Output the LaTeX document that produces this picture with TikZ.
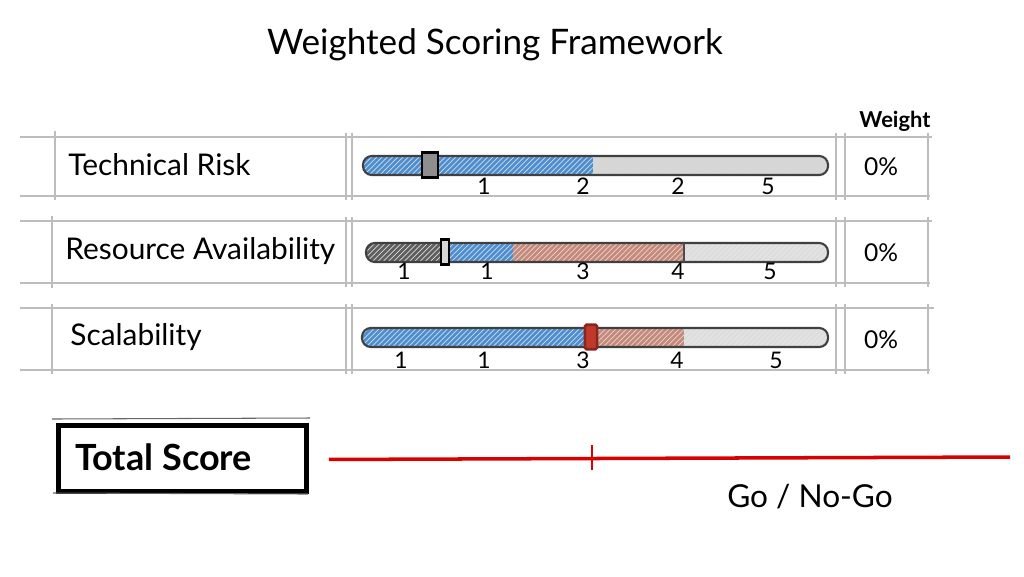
\documentclass[tikz,border=0pt]{standalone}
\usepackage{fontspec}
\setmainfont{Lato}
\usetikzlibrary{positioning,patterns,calc}

\definecolor{sblue}{HTML}{4A8FD3}
\definecolor{sgray}{HTML}{D6D6D6}
\definecolor{sdark}{HTML}{5E5E5E}
\definecolor{sbrown}{HTML}{C98878}
\definecolor{sred}{HTML}{C0392B}
\definecolor{gridline}{HTML}{BDBDBD}

\begin{document}
\begin{tikzpicture}[x=0.02cm,y=-0.02cm,
	grid/.style={gridline, line width=0.7pt},
	rowlabel/.style={anchor=west, font=\fontsize{17}{20}\selectfont, inner sep=0pt},
	tick/.style={font=\fontsize{13}{15}\selectfont, inner sep=0pt},
	weightval/.style={font=\fontsize{14}{16}\selectfont, inner sep=0pt},
	track/.style={draw=black!75, line width=1.2pt, rounded corners=5pt},
	hatch/.style={pattern=north east lines, pattern color=white!85!black}
	]
	\useasboundingbox (0,0) rectangle (1024,576);
	
	% title
	\node[font=\fontsize{20}{24}\selectfont] (title) at (495,45) {Weighted Scoring Framework};
	\node[font=\fontsize{12.5}{14}\selectfont\bfseries] (weight) at (895,121) {Weight};
	
	% grid lines of the three rows
	\draw[grid] (20,137) -- (932,137);
	\draw[grid] (20,196) -- (930,196);
	\draw[grid] (20,221) -- (932,221);
	\draw[grid] (20,283) -- (930,283);
	\draw[grid] (20,308) -- (934,308);
	\draw[grid] (20,370) -- (930,370);
	\draw[grid] (55,131) -- (55,200);
	\draw[grid] (52,216) -- (52,288);
	\draw[grid] (52,304) -- (52,374);
	\draw[grid] (346,133) -- (346,200);
	\draw[grid] (346,217) -- (346,287);
	\draw[grid] (346,304) -- (346,374);
	\draw[grid] (352,133) -- (352,200);
	\draw[grid] (352,217) -- (352,287);
	\draw[grid] (352,304) -- (352,374);
	\draw[grid] (836,133) -- (836,200);
	\draw[grid] (836,217) -- (836,287);
	\draw[grid] (836,304) -- (836,374);
	\draw[grid] (845,133) -- (845,200);
	\draw[grid] (845,217) -- (845,287);
	\draw[grid] (845,304) -- (845,374);
	\draw[grid] (928,133) -- (928,200);
	\draw[grid] (928,217) -- (928,287);
	\draw[grid] (928,304) -- (928,374);
	
	% row labels
	\node[rowlabel] (risk) at (68,165) {Technical Risk};
	\node[rowlabel] (resource) at (65,251) {Resource Availability};
	\node[rowlabel] (scale) at (70,337) {Scalability};
	
	% weights
	\node[weightval] (w1) at (881,167) {0\%};
	\node[weightval] (w2) at (881,253) {0\%};
	\node[weightval] (w3) at (881,340) {0\%};
	
	% slider 1
	\begin{scope}
		\clip[rounded corners=5pt] (363,156) rectangle (828,175);
		\fill[sblue] (363,156) rectangle (593,175);
		\fill[sgray] (593,156) rectangle (828,175);
		\fill[hatch] (363,156) rectangle (828,175);
	\end{scope}
	\draw[track] (363,156) rectangle (828,175);
	\node[draw=black, line width=1.5pt, fill=sdark!70, minimum width=9pt, minimum height=14pt, inner sep=0pt] (h1) at (430,165) {};
	\node[tick] (t11) at (484,186) {1};
	\node[tick] (t12) at (583,186) {2};
	\node[tick] (t13) at (678,186) {2};
	\node[tick] (t14) at (768,186) {5};
	
	% slider 2
	\begin{scope}
		\clip[rounded corners=5pt] (366,243) rectangle (828,262);
		\fill[sdark] (366,243) rectangle (445,262);
		\fill[sblue] (445,243) rectangle (513,262);
		\fill[sbrown] (513,243) rectangle (684,262);
		\fill[sgray!70] (684,243) rectangle (828,262);
		\fill[hatch] (366,243) rectangle (828,262);
	\end{scope}
	\draw[track] (366,243) rectangle (828,262);
	\draw[black!70, line width=0.8pt] (684,243) -- (684,262);
	\node[draw=black, line width=1.5pt, fill=sgray, minimum width=4.5pt, minimum height=14pt, inner sep=0pt] (h2) at (445,252) {};
	\node[tick] (t21) at (404,271) {1};
	\node[tick] (t22) at (487,271) {1};
	\node[tick] (t23) at (583,271) {3};
	\node[tick] (t24) at (678,271) {4};
	\node[tick] (t25) at (770,271) {5};
	
	% slider 3
	\begin{scope}
		\clip[rounded corners=5pt] (362,328) rectangle (828,347);
		\fill[sblue] (362,328) rectangle (592,347);
		\fill[sbrown] (592,328) rectangle (684,347);
		\fill[sgray!70] (684,328) rectangle (828,347);
		\fill[hatch] (362,328) rectangle (828,347);
	\end{scope}
	\draw[track] (362,328) rectangle (828,347);
	\node[draw=sred!70!black, line width=1.5pt, fill=sred, minimum width=7pt, minimum height=14pt, inner sep=0pt, rounded corners=1pt] (h3) at (591,337) {};
	\node[tick] (t31) at (401,360) {1};
	\node[tick] (t32) at (484,360) {1};
	\node[tick] (t33) at (583,360) {3};
	\node[tick] (t34) at (677,360) {4};
	\node[tick] (t35) at (776,360) {5};
	
	% total score
	\node[draw=black, line width=2.8pt, minimum width=248*0.02cm, minimum height=66*0.02cm, anchor=north west, inner sep=0pt] (total) at (56,423) {};
	\draw[black!60, line width=0.6pt] (52,419) -- (310,418);
	\draw[black!60, line width=0.6pt] (53,493) -- (308,494);
	\node[font=\fontsize{20.5}{24}\selectfont\bfseries, anchor=west, inner sep=0pt] (totaltext) at (75,457) {Total Score};
	\coordinate (barend) at (1010,457);
	\draw[red!85!black, line width=2pt] (total.east) ++(20,1) coordinate (barstart) -- (barend);
	\coordinate (mark) at (592,457);
	\draw[red!85!black, line width=1.3pt] ($(mark)+(0,-12)$) -- ($(mark)+(0,13)$);
	\node[font=\fontsize{18}{21}\selectfont] (gonogo) at (810,497) {Go / No-Go};
\end{tikzpicture}
\end{document}
